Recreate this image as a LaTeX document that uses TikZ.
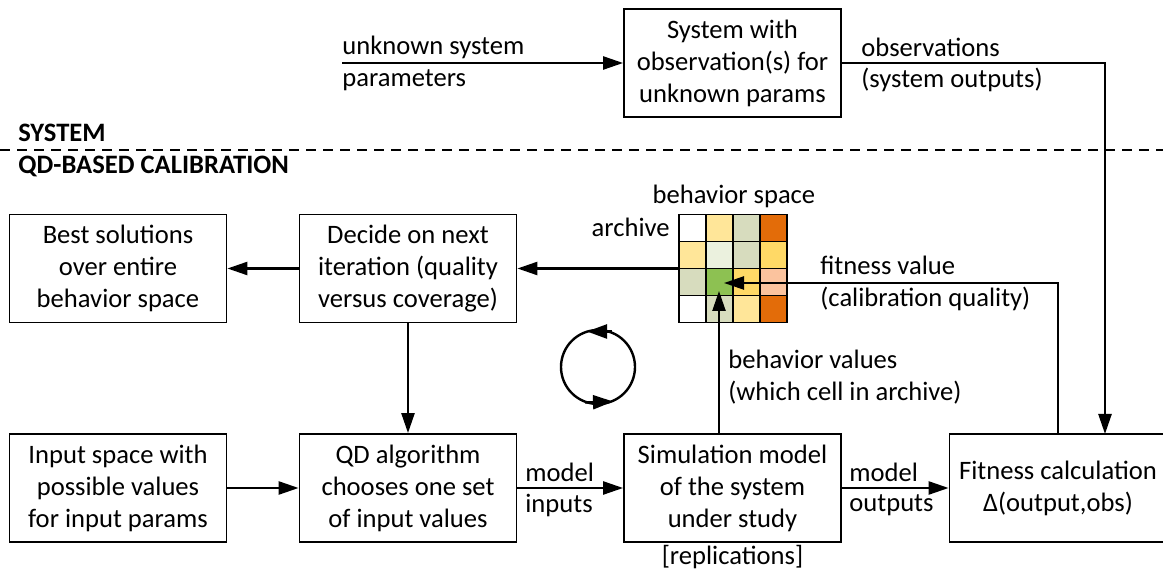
\documentclass[tikz,border=0pt]{standalone}
\usepackage{fontspec}
\setmainfont{Carlito}
\usetikzlibrary{arrows.meta}
\definecolor{cy}{HTML}{FFE699}
\definecolor{co}{HTML}{D7DCBE}
\definecolor{cr}{HTML}{E36C09}
\definecolor{cvl}{HTML}{EBF1DE}
\definecolor{cY}{HTML}{FFD966}
\definecolor{cg}{HTML}{8DC152}
\definecolor{cp}{HTML}{FBC39E}
\begin{document}
\begin{tikzpicture}[x=0.5pt,y=-0.5pt,
  font=\fontsize{13.3}{16}\selectfont,
  box/.style={draw,line width=0.9pt,minimum width=108.5pt,minimum height=54pt,align=center,inner sep=0pt},
  arr/.style={line width=1.2pt,-{Triangle[length=10pt,width=6.5pt]}},
  cycarr/.style={line width=1.2pt,-{Triangle[length=10pt,width=7pt]}},
  lbl/.style={align=left,inner sep=0pt,anchor=west},
  cellbox/.style={draw,line width=0.8pt,minimum size=13.5pt,inner sep=0pt}]

\useasboundingbox (0,0) rectangle (1163,571);

% separator
\coordinate (sepL) at (0,150);
\coordinate (sepR) at (1163,150);
\draw[line width=0.7pt,dash pattern=on 5pt off 3.5pt] (sepL) -- (sepR);
\node[lbl,font=\fontsize{13.3}{16}\selectfont\bfseries] (hsys) at (18,133) {SYSTEM};
\node[lbl,font=\fontsize{13.3}{16}\selectfont\bfseries] (hqd) at (18,166) {QD-BASED CALIBRATION};

% boxes
\node[box] (sys) at (732.5,63) {System with\\observation(s) for\\unknown params};
\node[box] (best) at (118,268.5) {Best solutions\\over entire\\behavior space};
\node[box] (decide) at (408,268.5) {Decide on next\\iteration (quality\\versus coverage)};
\node[box] (input) at (118,488) {Input space with\\possible values\\for input params};
\node[box] (qd) at (408,488) {QD algorithm\\chooses one set\\of input values};
\node[box] (sim) at (732.5,488) {Simulation model\\of the system\\under study};
\node[box] (fit) at (1058,488) {Fitness calculation\\Δ(output,obs)};
\node (repl) at (732.5,557) {[replications]};

% archive grid
\foreach \c [count=\i] in {white,cy,co,cr}
  \node[cellbox,fill=\c] (a1\i) at ({679+13.5+27*(\i-1)},228) {};
\foreach \c [count=\i] in {cy,cvl,co,cY}
  \node[cellbox,fill=\c] (a2\i) at ({679+13.5+27*(\i-1)},255) {};
\foreach \c [count=\i] in {co,cg,cY,cp}
  \node[cellbox,fill=\c] (a3\i) at ({679+13.5+27*(\i-1)},282) {};
\foreach \c [count=\i] in {white,co,cy,cr}
  \node[cellbox,fill=\c] (a4\i) at ({679+13.5+27*(\i-1)},309) {};
\node[minimum size=54pt,inner sep=0pt] (arch) at (733,268.5) {};
\node (bsp) at (734,196) {behavior space};
\node[anchor=east,inner sep=0pt] (archl) at (670,227) {archive};

% top input
\coordinate (uspStart) at (342,63);
\node[lbl] (usp1) at (342,47) {unknown system};
\node[lbl] (usp2) at (342,80) {parameters};
\draw[arr] (uspStart) -- (sys.west);

% observations
\coordinate (obsIn) at (1105,434);
\draw[arr] (sys.east) -| (obsIn);
\node[lbl] (obs1) at (861,47) {observations};
\node[lbl] (obs2) at (861,80) {(system outputs)};

% decide -> best, archive -> decide
\draw[arr] (decide.west) -- (best.east);
\draw[arr] (arch.west) -- (decide.east);

% decide -> qd
\draw[arr] (decide.south) -- (qd.north);

% input -> qd
\draw[arr] (input.east) -- (qd.west);

% qd -> sim
\draw[arr] (qd.east) -- (sim.west);
\node[lbl] (mi1) at (525,472) {model};
\node[lbl] (mi2) at (525,505) {inputs};

% sim -> fit
\draw[arr] (sim.east) -- (fit.west);
\node[lbl] (mo1) at (849,472) {model};
\node[lbl] (mo2) at (849,505) {outputs};

% behavior values
\coordinate (behTip) at (719,291);
\draw[arr] (behTip |- sim.north) -- (behTip);
\node[lbl] (behl) at (728,377.5) {behavior values\\(which cell in archive)};

% fitness value
\coordinate (fitTip) at (724,283);
\draw[arr] (fit.north) |- (fitTip);
\node[lbl] (fitl) at (820,283.5) {fitness value\\(calibration quality)};

% cycle symbol
\coordinate (cyc) at (598,367);
\draw[line width=1.2pt] (cyc) circle[radius=37];
\coordinate (ct1) at (612,331.5);
\coordinate (ct2) at (587,331.5);
\coordinate (cb1) at (585,402.5);
\coordinate (cb2) at (613,401.5);
\draw[cycarr] (ct1) -- (ct2);
\draw[cycarr] (cb1) -- (cb2);
\end{tikzpicture}
\end{document}
